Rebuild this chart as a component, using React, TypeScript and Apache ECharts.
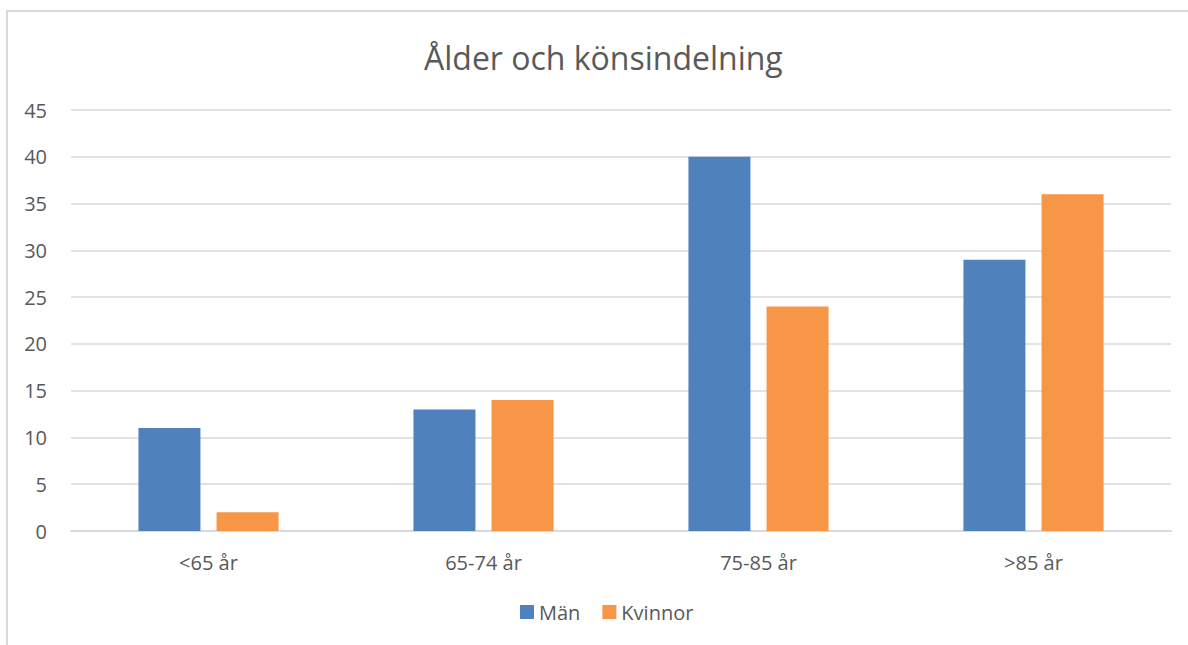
import React, { useEffect, useRef } from "react";
import * as echarts from "echarts";

const categories = ["<65 år", "65-74 år", "75-85 år", ">85 år"];
const manValues = [11, 13, 40, 29];
const kvinnorValues = [2, 14, 24, 36];
const seriesNames = ["Män", "Kvinnor"];
const titleText = "Ålder och könsindelning";

export default function App() {
  const ref = useRef<HTMLDivElement>(null);
  useEffect(() => {
    if (!ref.current) return;
    const chart = echarts.init(ref.current, null, { renderer: "svg" });
    const font = "'Open Sans', 'Noto Sans', sans-serif";
    chart.setOption({
      animation: false,
      backgroundColor: "#ffffff",
      textStyle: { fontFamily: font },
      title: {
        text: titleText,
        left: 419,
        top: 36,
        textStyle: { fontSize: 32, fontWeight: "normal", color: "#595959", fontFamily: font },
      },
      graphic: [
        {
          type: "rect",
          shape: { x: 7, y: 11, width: 1200, height: 700 },
          style: { fill: "none", stroke: "#d9d9d9", lineWidth: 2 },
          silent: true,
        },
      ],
      legend: {
        data: seriesNames,
        bottom: 18,
        left: 515,
        itemWidth: 14,
        itemHeight: 14,
        itemGap: 22,
        icon: "rect",
        textStyle: { fontSize: 20, color: "#595959", fontFamily: font, padding: [0, 0, 0, 0] },
      },
      grid: { left: 71, right: 17, top: 110, bottom: 114, containLabel: false },
      xAxis: {
        type: "category",
        data: categories,
        axisTick: { show: false },
        axisLine: { lineStyle: { color: "#d9d9d9", width: 2 } },
        axisLabel: { fontSize: 20, color: "#595959", margin: 21, fontFamily: font },
      },
      yAxis: {
        type: "value",
        min: 0,
        max: 45,
        interval: 5,
        axisLine: { show: false },
        axisTick: { show: false },
        splitLine: { lineStyle: { color: "#d9d9d9", width: 1.5 } },
        axisLabel: { fontSize: 20, color: "#595959", margin: 24, fontFamily: font },
      },
      series: [
        {
          name: seriesNames[0],
          type: "bar",
          data: manValues,
          barWidth: 62,
          barGap: "26%",
          itemStyle: { color: "#4f81bd" },
        },
        {
          name: seriesNames[1],
          type: "bar",
          data: kvinnorValues,
          barWidth: 62,
          itemStyle: { color: "#f79646" },
        },
      ],
    });
    return () => chart.dispose();
  }, []);
  return (
    <div
      ref={ref}
      style={{ position: "absolute", left: 0, top: 0, width: 1188, height: 645 }}
    />
  );
}
